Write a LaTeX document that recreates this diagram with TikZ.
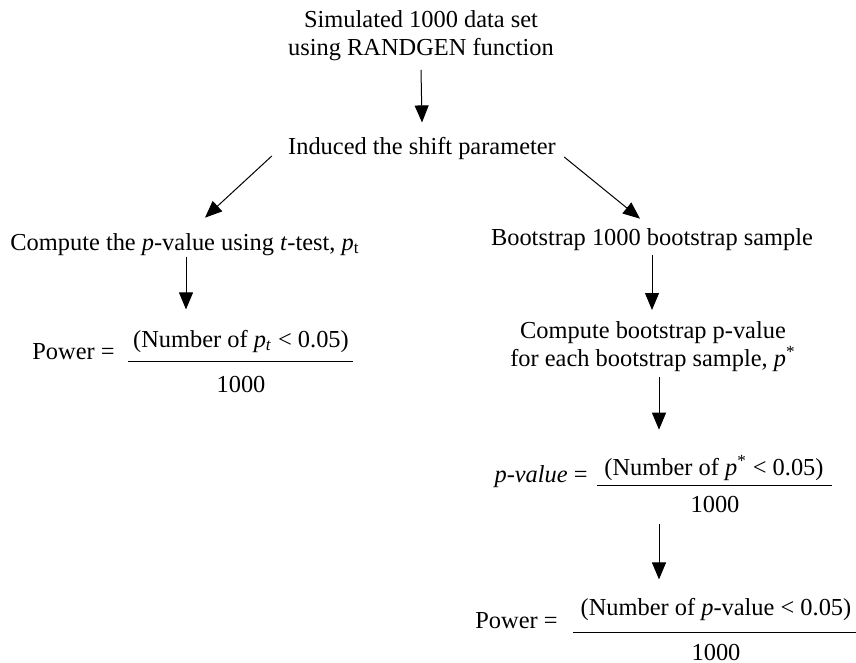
\documentclass[tikz,border=0pt]{standalone}
\usepackage{fontspec}
\setmainfont{Liberation Serif}
\usetikzlibrary{arrows.meta,calc}

\begin{document}
\begin{tikzpicture}[x=0.5pt,y=-0.5pt,
  every node/.style={inner sep=0pt,font=\fontsize{12.2}{14}\selectfont},
  arr/.style={-{Triangle[length=8.5pt,width=7pt]},line width=0.5pt},
  fracbar/.style={line width=0.5pt}]
\useasboundingbox (0,0) rectangle (856,663);
\node[align=center,anchor=north] (sim) at (421,10) {Simulated 1000 data set\\using RANDGEN function};
\node[anchor=base] (ind) at (422,155) {Induced the shift parameter};
\node[anchor=base] (ttest) at (185,250) {Compute the \textit{p}-value using \textit{t}-test, \textit{p}\textsubscript{t}};
\node[anchor=base] (boot) at (652,246) {Bootstrap 1000 bootstrap sample};
\node[anchor=base west] (pow1) at (32,359) {Power =};
\node[anchor=base] (num1) at (241,347) {(Number of \textit{p}\textsubscript{\textit{t}} < 0.05)};
\node[anchor=base] (den1) at (241,392) {1000};
\coordinate (bar1l) at (128,361);
\coordinate (bar1r) at (353,361);
\node[align=center,anchor=north] (cboot) at (653,321) {Compute bootstrap p-value\\for each bootstrap sample, \textit{p}\textsuperscript{*}};
\node[anchor=base east] (pval) at (588,482) {\textit{p-value} =};
\node[anchor=base] (num2) at (714,475) {(Number of \textit{p}\textsuperscript{*} < 0.05)};
\node[anchor=base] (den2) at (715,512) {1000};
\coordinate (bar2l) at (597,485);
\coordinate (bar2r) at (832,485);
\node[anchor=base east] (pow2) at (558,628) {Power =};
\node[anchor=base] (num3) at (716,615) {(Number of \textit{p}-value < 0.05)};
\node[anchor=base] (den3) at (716,660) {1000};
\coordinate (bar3l) at (573,632);
\coordinate (bar3r) at (856,632);
\draw [fracbar] (bar1l) -- (bar1r);
\draw [fracbar] (bar2l) -- (bar2r);
\draw [fracbar] (bar3l) -- (bar3r);
\draw [arr] ($(sim.south)+(0,9)$) -- ($(ind.north)+(0,-15)$);
\draw [arr] ($(ind.west)+(-16,7)$) -- ($(ttest.north)+(20,-15)$);
\draw [arr] ($(ind.east)+(8,8)$) -- ($(boot.north)+(-12,-10)$);
\draw [arr] ($(ttest.south)+(1,1)$) -- ($(ttest.south |- num1.north)+(1,-20)$);
\draw [arr] ($(boot.south)+(0,3)$) -- ($(boot.south |- cboot.north)+(0,-11)$);
\draw [arr] ($(cboot.south)+(6,5)$) -- ($(cboot.south |- num2.north)+(6,-25)$);
\draw [arr] ($(cboot.south |- den2.south)+(6,11)$) -- ($(cboot.south |- num3.north)+(6,-18)$);
\end{tikzpicture}
\end{document}
